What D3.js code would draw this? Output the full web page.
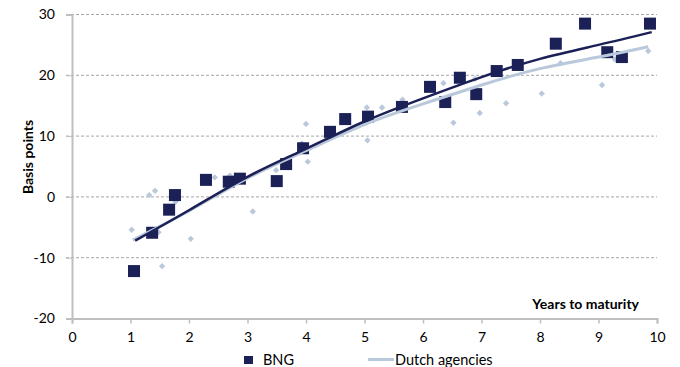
<!DOCTYPE html>
<html>
<head>
<meta charset="utf-8">
<script src="https://cdn.jsdelivr.net/npm/d3@7"></script>
<style>
  body { margin: 0; background: #fff; }
  text { font-family: Lato, "Open Sans", sans-serif; fill: #000; }
</style>
</head>
<body>
<div id="chart"></div>
<script>
// BNG spreads (squares)
const bngX = [1.06, 1.37, 1.66, 1.76, 2.29, 2.68, 2.87, 3.50, 3.66, 3.95, 4.41, 4.67, 5.06,
              5.64, 6.12, 6.38, 6.63, 6.91, 7.26, 7.62, 8.27, 8.77, 9.15, 9.40, 9.88];
const bngY = [-12.2, -5.9, -2.1, 0.3, 2.8, 2.5, 3.0, 2.6, 5.4, 8.0, 10.7, 12.8, 13.2,
              14.8, 18.1, 15.6, 19.6, 16.9, 20.7, 21.7, 25.2, 28.5, 23.8, 23.0, 28.5];

// Dutch agencies spreads (diamonds)
const agencyX = [1.02, 1.32, 1.42, 1.48, 1.54, 1.77, 2.03, 2.44, 2.70, 3.09, 3.49, 3.93, 4.00,
                 4.03, 5.04, 5.05, 5.30, 5.65, 6.35, 6.52, 6.89, 6.97, 7.42, 8.03, 8.35,
                 9.06, 9.28, 9.85];
const agencyY = [-5.4, 0.3, 1.0, -5.8, -11.4, -0.8, -6.9, 3.2, 3.5, -2.4, 4.4, 8.8, 12.0,
                 5.8, 14.7, 9.3, 14.7, 16.0, 18.7, 12.2, 19.4, 13.8, 15.4, 17.0, 22.0,
                 18.4, 22.6, 24.0];

// trend lines
const bngTrendX = [1.08, 2, 3, 4, 5, 6, 7, 8, 9, 9.91];
const bngTrendY = [-7.2, -2.2, 3.3, 7.9, 12.4, 16.2, 19.7, 22.7, 25.0, 27.1];
const agencyTrendX = [1.04, 2, 3, 4, 5, 6, 7, 8, 9, 9.85];
const agencyTrendY = [-7.1, -2.3, 3.1, 7.6, 11.9, 15.3, 18.4, 21.1, 23.0, 24.7];

const xTicks = [0, 1, 2, 3, 4, 5, 6, 7, 8, 9, 10];
const yTicks = [-20, -10, 0, 10, 20, 30];

const dark = "#1b2157";
const light = "#b9c8da";

const svg = d3.select("#chart").append("svg")
    .attr("width", 680)
    .attr("height", 367);

const x = d3.scaleLinear().domain([0, 10]).range([72, 657]);
const y = d3.scaleLinear().domain([-20, 30]).range([318.5, 14.5]);

// gridlines
svg.append("g")
    .selectAll("line")
    .data(yTicks.filter(d => d > -20))
    .enter()
    .append("line")
    .attr("x1", 66)
    .attr("x2", x(10))
    .attr("y1", d => y(d))
    .attr("y2", d => y(d))
    .attr("stroke", "#a6a6a6")
    .attr("stroke-width", 1)
    .attr("stroke-dasharray", "3,2");

// y axis (plain hyphen for negatives, like the original)
const yAxis = svg.append("g")
    .attr("transform", `translate(${x(0)},0)`)
    .call(d3.axisLeft(y).tickValues(yTicks).tickFormat(d => String(d)).tickSize(6).tickPadding(11));
yAxis.select(".domain").attr("stroke", "#bfbfbf").attr("stroke-width", 2);
yAxis.selectAll(".tick line").attr("stroke", "#bfbfbf");
yAxis.selectAll(".tick text").attr("font-size", 14).attr("font-family", "Lato");

// x axis
const xAxis = svg.append("g")
    .attr("transform", `translate(0,${y(-20)})`)
    .call(d3.axisBottom(x).tickValues(xTicks).tickFormat(d => String(d)).tickSizeOuter(0).tickSize(5).tickPadding(9));
xAxis.select(".domain").attr("stroke", "#bfbfbf").attr("stroke-width", 2);
xAxis.selectAll(".tick line").attr("stroke", "#bfbfbf").attr("stroke-width", 1.5);
xAxis.selectAll(".tick text").attr("font-size", 14).attr("font-family", "Lato");

// axis titles
svg.append("text")
    .attr("transform", "translate(33,157) rotate(-90)")
    .attr("text-anchor", "middle")
    .attr("font-size", 14)
    .attr("font-weight", "bold")
    .text("Basis points");

svg.append("text")
    .attr("x", 639)
    .attr("y", 309)
    .attr("text-anchor", "end")
    .attr("font-size", 14)
    .attr("font-weight", "bold")
    .text("Years to maturity");

// diamonds
const agencyData = agencyX.map((d, i) => ({ x: d, y: agencyY[i] }));
svg.append("g")
    .selectAll("path")
    .data(agencyData)
    .enter()
    .append("path")
    .attr("d", d3.symbol().type(d3.symbolSquare).size(20))
    .attr("transform", d => `translate(${x(d.x)},${y(d.y)}) rotate(45)`)
    .attr("fill", light);

// squares
const bngData = bngX.map((d, i) => ({ x: d, y: bngY[i] }));
svg.append("g")
    .selectAll("rect")
    .data(bngData)
    .enter()
    .append("rect")
    .attr("x", d => x(d.x) - 6)
    .attr("y", d => y(d.y) - 6)
    .attr("width", 12)
    .attr("height", 12)
    .attr("fill", dark);

// trend lines
const line = d3.line()
    .x(d => x(d[0]))
    .y(d => y(d[1]))
    .curve(d3.curveNatural);

svg.append("path")
    .datum(agencyTrendX.map((d, i) => [d, agencyTrendY[i]]))
    .attr("d", line)
    .attr("fill", "none")
    .attr("stroke", light)
    .attr("stroke-width", 3);

svg.append("path")
    .datum(bngTrendX.map((d, i) => [d, bngTrendY[i]]))
    .attr("d", line)
    .attr("fill", "none")
    .attr("stroke", dark)
    .attr("stroke-width", 2.5);

// legend
const legend = svg.append("g").attr("font-size", 14.5);
legend.append("rect")
    .attr("x", 244).attr("y", 356)
    .attr("width", 9).attr("height", 8)
    .attr("fill", dark);
legend.append("text")
    .attr("x", 263).attr("y", 365)
    .text("BNG");
legend.append("line")
    .attr("x1", 368).attr("x2", 394)
    .attr("y1", 359.5).attr("y2", 359.5)
    .attr("stroke", light)
    .attr("stroke-width", 3);
legend.append("text")
    .attr("x", 395).attr("y", 365)
    .text("Dutch agencies");
</script>
</body>
</html>
